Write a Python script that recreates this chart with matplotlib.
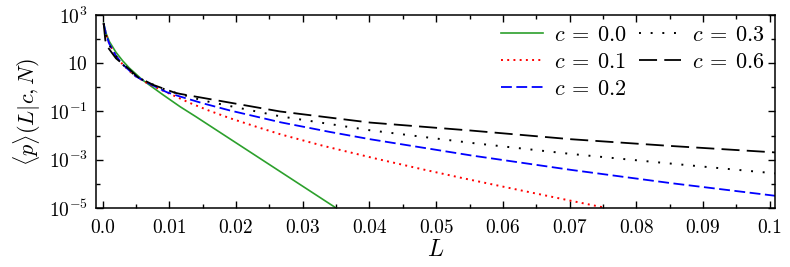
import numpy as np
import matplotlib
matplotlib.use("Agg")
import matplotlib.pyplot as plt
from matplotlib.ticker import FixedLocator, MultipleLocator, NullFormatter

plt.rcParams['mathtext.fontset'] = 'cm'
plt.rcParams['font.family'] = 'serif'
plt.rcParams['font.serif'] = ['cmr10', 'DejaVu Serif']
plt.rcParams['axes.formatter.use_mathtext'] = True

# curves: L and log10 <p>
L_c00 = [0.00015, 0.0005, 0.001, 0.002, 0.003, 0.004, 0.005, 0.006, 0.007, 0.009,
         0.0116, 0.014, 0.02, 0.025, 0.03, 0.035]
p_c00 = [2.65, 2.25, 1.9, 1.45, 1.1, 0.8, 0.55, 0.3, 0.1, -0.3,
         -0.8, -1.22, -2.3, -3.2, -4.1, -5.0]

L_c01 = [0.00015, 0.0005, 0.001, 0.002, 0.003, 0.004, 0.005, 0.007, 0.0104, 0.0131,
         0.0159, 0.0191, 0.023, 0.0267, 0.033, 0.0409, 0.048, 0.0541, 0.062, 0.0702, 0.0755]
p_c01 = [2.65, 2.2, 1.8, 1.3, 0.95, 0.68, 0.45, 0.12, -0.31, -0.65,
         -0.96, -1.28, -1.63, -1.95, -2.42, -2.95, -3.4, -3.77, -4.23, -4.7, -5.0]

L_c02 = [0.00015, 0.0005, 0.001, 0.002, 0.003, 0.005, 0.007, 0.0096, 0.0116, 0.015,
         0.0191, 0.0267, 0.0341, 0.0401, 0.0552, 0.0702, 0.0852, 0.101]
p_c02 = [2.65, 2.2, 1.8, 1.3, 0.95, 0.45, 0.15, -0.2, -0.38, -0.66,
         -0.96, -1.45, -1.85, -2.15, -2.82, -3.42, -3.97, -4.5]

L_c03 = [0.00015, 0.0005, 0.001, 0.002, 0.003, 0.005, 0.007, 0.0096, 0.0151, 0.0266,
         0.0401, 0.0552, 0.0702, 0.0852, 0.101]
p_c03 = [2.65, 2.15, 1.75, 1.3, 0.95, 0.45, 0.18, -0.12, -0.55, -1.2,
         -1.78, -2.3, -2.76, -3.16, -3.57]

L_c06 = [0.00015, 0.0004, 0.0008, 0.0012, 0.002, 0.003, 0.004, 0.0053, 0.0076, 0.0108,
         0.0116, 0.0266, 0.0401, 0.0552, 0.0702, 0.0852, 0.101]
p_c06 = [2.65, 1.95, 1.65, 1.5, 1.2, 0.97, 0.75, 0.42, 0.1, -0.22,
         -0.27, -1.0, -1.46, -1.79, -2.15, -2.43, -2.7]

x_ticks = [0.0, 0.01, 0.02, 0.03, 0.04, 0.05, 0.06, 0.07, 0.08, 0.09, 0.1]
x_labels = ['0.0', '0.01', '0.02', '0.03', '0.04', '0.05', '0.06', '0.07', '0.08', '0.09', '0.1']
y_ticks = [1e3, 1e1, 1e-1, 1e-3, 1e-5]
y_labels = [r'$10^{3}$', r'$10$', r'$10^{-1}$', r'$10^{-3}$', r'$10^{-5}$']

fig = plt.figure(figsize=(7.9, 2.67), dpi=100)
ax = fig.add_axes([0.1215, 0.221, 0.8595, 0.723])

ax.plot(L_c00, 10.0 ** np.array(p_c00), color='#2ca02c', lw=1.2, ls='-', label=r'$c\:=\:0.0$')
ax.plot(L_c01, 10.0 ** np.array(p_c01), color='red', lw=1.4, ls=(0, (1, 2.2)), label=r'$c\:=\:0.1$')
ax.plot(L_c02, 10.0 ** np.array(p_c02), color='blue', lw=1.3, ls=(0, (6, 2.5)), label=r'$c\:=\:0.2$')
ax.plot(L_c03, 10.0 ** np.array(p_c03), color='black', lw=1.4, ls=(0, (1, 5)), label=r'$c\:=\:0.3$')
ax.plot(L_c06, 10.0 ** np.array(p_c06), color='black', lw=1.3, ls=(0, (10, 4)), label=r'$c\:=\:0.6$')

ax.set_yscale('log')
ax.set_xlim(-0.001, 0.1008)
ax.set_ylim(1e-5, 1e3)

ax.xaxis.set_major_locator(FixedLocator(x_ticks))
ax.set_xticklabels(x_labels)
ax.xaxis.set_minor_locator(MultipleLocator(0.005))
ax.yaxis.set_major_locator(FixedLocator(y_ticks))
ax.set_yticklabels(y_labels)
ax.yaxis.set_minor_locator(FixedLocator([1e2, 1e0, 1e-2, 1e-4]))
ax.yaxis.set_minor_formatter(NullFormatter())

ax.tick_params(which='both', direction='in', top=True, right=True, labelsize=14, width=1.0)
ax.tick_params(which='major', length=5)
ax.tick_params(axis='x', which='major', pad=8)
ax.tick_params(axis='y', which='major', pad=6)
ax.tick_params(which='minor', length=3)
for s in ax.spines.values():
    s.set_linewidth(1.1)

ax.set_xlabel(r'$L$', fontsize=17, labelpad=1)
ax.set_ylabel(r'$\langle p\rangle(L|c,N)$', fontsize=16, labelpad=4)

ax.legend(loc='upper right', ncol=2, frameon=False, fontsize=16, handlelength=1.9,
          columnspacing=0.55, handletextpad=0.5, labelspacing=0.35, borderaxespad=0.05)

fig.savefig('out.png', dpi=100)
